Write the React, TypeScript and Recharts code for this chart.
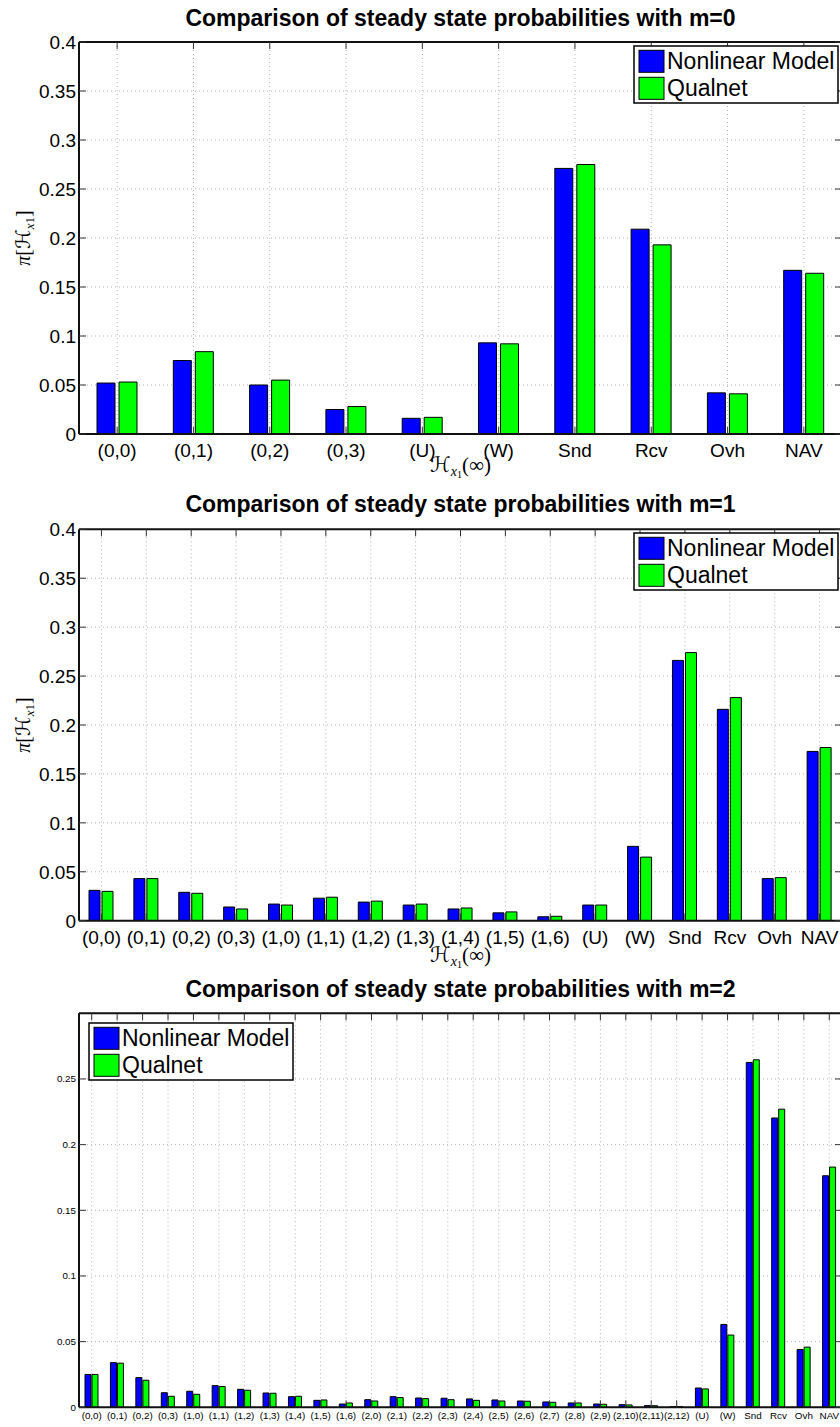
import React from "react";
import { BarChart, Bar, XAxis, YAxis, CartesianGrid, Legend } from "recharts";

// m = 0
const statesM0 = ["(0,0)", "(0,1)", "(0,2)", "(0,3)", "(U)", "(W)", "Snd", "Rcv", "Ovh", "NAV"];
const modelM0 = [0.052, 0.075, 0.050, 0.025, 0.016, 0.093, 0.271, 0.209, 0.042, 0.167];
const qualnetM0 = [0.053, 0.084, 0.055, 0.028, 0.017, 0.092, 0.275, 0.193, 0.041, 0.164];

// m = 1
const statesM1 = [
  "(0,0)", "(0,1)", "(0,2)", "(0,3)", "(1,0)", "(1,1)", "(1,2)", "(1,3)", "(1,4)", "(1,5)", "(1,6)",
  "(U)", "(W)", "Snd", "Rcv", "Ovh", "NAV",
];
const modelM1 = [0.031, 0.043, 0.029, 0.014, 0.017, 0.023, 0.019, 0.016, 0.012, 0.008, 0.004, 0.016, 0.076, 0.266, 0.216, 0.043, 0.173];
const qualnetM1 = [0.030, 0.043, 0.028, 0.012, 0.016, 0.024, 0.020, 0.017, 0.013, 0.009, 0.0045, 0.016, 0.065, 0.274, 0.228, 0.044, 0.177];

// m = 2
const statesM2 = [
  "(0,0)", "(0,1)", "(0,2)", "(0,3)", "(1,0)", "(1,1)", "(1,2)", "(1,3)", "(1,4)", "(1,5)", "(1,6)",
  "(2,0)", "(2,1)", "(2,2)", "(2,3)", "(2,4)", "(2,5)", "(2,6)", "(2,7)", "(2,8)", "(2,9)", "(2,10)", "(2,11)", "(2,12)",
  "(U)", "(W)", "Snd", "Rcv", "Ovh", "NAV",
];
const modelM2 = [
  0.025, 0.034, 0.0226, 0.0111, 0.0122, 0.0165, 0.0137, 0.0109, 0.0081, 0.0053, 0.0025,
  0.0058, 0.0081, 0.0071, 0.0069, 0.0064, 0.0056, 0.0048, 0.0041, 0.0033, 0.0025, 0.002, 0.0013, 0.0005,
  0.0147, 0.0631, 0.2626, 0.2203, 0.044, 0.1763,
];
const qualnetM2 = [
  0.025, 0.0336, 0.0206, 0.0084, 0.0099, 0.0158, 0.013, 0.0107, 0.0084, 0.0056, 0.0033,
  0.0048, 0.0074, 0.0066, 0.0058, 0.0053, 0.0048, 0.0046, 0.0038, 0.0033, 0.0023, 0.0018, 0.0012, 0.0005,
  0.014, 0.055, 0.2646, 0.227, 0.0458, 0.1829,
];

const ticksTall = [0, 0.05, 0.1, 0.15, 0.2, 0.25, 0.3, 0.35, 0.4];
const ticksShort = [0, 0.05, 0.1, 0.15, 0.2, 0.25];

const seriesNames = ["Nonlinear Model", "Qualnet"];
const seriesColors = ["#0000ff", "#00ff00"];

const SANS = "'Liberation Sans', Arial, Helvetica, sans-serif";
const SERIF = "'Liberation Serif', 'DejaVu Serif', 'DejaVu Sans', serif";
const AXIS = { stroke: "#111", strokeWidth: 2 };
const PLOT_LEFT = 79;
const PLOT_W = 763;
const CHART_W = 900;

function renderLegend() {
  return (
    <svg width={206} height={59} style={{ display: "block" }}>
      <rect x={1} y={1} width={204} height={57} fill="#fff" stroke="#000" strokeWidth={1.5} />
      {seriesNames.map((name, i) => (
        <g key={name}>
          <rect x={6} y={5.3 + i * 27} width={25} height={22} fill={seriesColors[i]} stroke="#000" />
          <text x={34} y={23.6 + i * 27} fontFamily={SANS} fontSize={23} fill="#000">
            {name}
          </text>
        </g>
      ))}
    </svg>
  );
}

interface PanelProps {
  top: number;
  height: number;
  plotTop: number;
  plotBottom: number;
  title: string;
  titleY: number;
  states: string[];
  model: number[];
  qualnet: number[];
  yMax: number;
  yTicks: number[];
  tickFont: number;
  xTickDy: number;
  barSize: number;
  barGap: number;
  legendX: number;
  legendY: number;
  xLabelY?: number;
  showYLabel?: boolean;
}

function Panel(p: PanelProps) {
  const rows = p.states.map((s, i) => ({ state: s, model: p.model[i], qualnet: p.qualnet[i] }));
  const mid = (p.plotTop + p.plotBottom) / 2;
  const fs = p.tickFont;

  const leftTick = (t: any) => (
    <g>
      <line x1={t.x} x2={t.x + 7} y1={t.y} y2={t.y} stroke="#333" />
      <text x={t.x - 3} y={t.y + fs * 0.36} textAnchor="end" fontFamily={SANS} fontSize={fs} fill="#000">
        {t.payload.value}
      </text>
    </g>
  );
  const rightTick = (t: any) => <line x1={t.x} x2={t.x - 7} y1={t.y} y2={t.y} stroke="#333" />;
  const topTick = (t: any) => <line x1={t.x} x2={t.x} y1={t.y} y2={t.y + 7} stroke="#333" />;
  const bottomTick = (t: any) => (
    <g>
      <line x1={t.x} x2={t.x} y1={t.y} y2={t.y - 7} stroke="#333" />
      <text x={t.x} y={t.y + p.xTickDy} textAnchor="middle" fontFamily={SANS} fontSize={fs} fill="#000">
        {t.payload.value}
      </text>
    </g>
  );

  const xLabel =
    p.xLabelY !== undefined
      ? {
          content: () => (
            <text x={PLOT_LEFT + PLOT_W / 2} y={p.xLabelY} textAnchor="middle" fontFamily={SERIF} fontSize={21} fill="#000">
              <tspan>ℋ</tspan>
              <tspan fontStyle="italic" fontSize={14} dy={4}>x</tspan>
              <tspan fontSize={10} dy={2}>1</tspan>
              <tspan fontSize={21} dy={-6}>(∞)</tspan>
            </text>
          ),
        }
      : undefined;

  const yLabel = p.showYLabel
    ? {
        content: () => (
          <text
            x={25}
            y={mid + 5}
            transform={`rotate(-90 25 ${mid})`}
            textAnchor="middle"
            fontFamily={SERIF}
            fontSize={20}
            fill="#000"
          >
            <tspan fontStyle="italic">π</tspan>
            <tspan>[ℋ</tspan>
            <tspan fontStyle="italic" fontSize={13} dy={4}>x</tspan>
            <tspan fontSize={13}>1</tspan>
            <tspan fontSize={20} dy={-4}>]</tspan>
          </text>
        ),
      }
    : undefined;

  return (
    <div style={{ position: "absolute", left: 0, top: p.top, width: 840, height: p.height, overflow: "hidden" }}>
      <BarChart
        width={CHART_W}
        height={p.height}
        data={rows}
        margin={{ top: p.plotTop - 10, right: 0, bottom: 0, left: 0 }}
        barSize={p.barSize}
        barGap={p.barGap}
      >
        <CartesianGrid stroke="#b3b3b3" strokeDasharray="1 3" />
        <XAxis
          dataKey="state"
          interval={0}
          height={p.height - p.plotBottom}
          tickSize={0}
          tickMargin={0}
          tickLine={false}
          tick={bottomTick}
          axisLine={AXIS}
          label={xLabel}
        />
        <XAxis
          xAxisId="top"
          orientation="top"
          dataKey="state"
          interval={0}
          height={10}
          tickSize={0}
          tickMargin={0}
          tickLine={false}
          tick={topTick}
          axisLine={AXIS}
        />
        <YAxis
          type="number"
          domain={[0, p.yMax]}
          ticks={p.yTicks}
          interval={0}
          width={PLOT_LEFT}
          tickSize={0}
          tickMargin={0}
          tickLine={false}
          tick={leftTick}
          axisLine={AXIS}
          allowDataOverflow
          label={yLabel}
        />
        <YAxis
          yAxisId="right"
          orientation="right"
          type="number"
          domain={[0, p.yMax]}
          ticks={p.yTicks}
          interval={0}
          width={CHART_W - PLOT_LEFT - PLOT_W}
          tickSize={0}
          tickMargin={0}
          tickLine={false}
          tick={rightTick}
          axisLine={AXIS}
          allowDataOverflow
        />
        <Legend
          layout="vertical"
          align="center"
          verticalAlign="middle"
          wrapperStyle={{ left: p.legendX - 1, top: p.legendY - 1, width: 206, height: 59 }}
          content={renderLegend}
        />
        <Bar dataKey="model" name={seriesNames[0]} fill={seriesColors[0]} stroke="#000" strokeWidth={1} isAnimationActive={false} />
        <Bar dataKey="qualnet" name={seriesNames[1]} fill={seriesColors[1]} stroke="#000" strokeWidth={1} isAnimationActive={false} />
      </BarChart>
      <svg style={{ position: "absolute", left: 0, top: 0, pointerEvents: "none" }} width={840} height={p.plotTop}>
        <text x={PLOT_LEFT + PLOT_W / 2} y={p.titleY} textAnchor="middle" fontFamily={SANS} fontWeight="bold" fontSize={23} fill="#000">
          {p.title}
        </text>
      </svg>
    </div>
  );
}

export default function App() {
  return (
    <div style={{ position: "absolute", left: 0, top: 0, width: 840, height: 1427, overflow: "hidden", background: "#fff" }}>
      <Panel
        top={0}
        height={492}
        plotTop={42}
        plotBottom={434}
        title="Comparison of steady state probabilities with m=0"
        titleY={26}
        states={statesM0}
        model={modelM0}
        qualnet={qualnetM0}
        yMax={0.4}
        yTicks={ticksTall}
        tickFont={19}
        xTickDy={23}
        barSize={18}
        barGap={4}
        legendX={634}
        legendY={45.7}
        xLabelY={472}
        showYLabel
      />
      <Panel
        top={480}
        height={502}
        plotTop={49.3}
        plotBottom={440.7}
        title="Comparison of steady state probabilities with m=1"
        titleY={32.3}
        states={statesM1}
        model={modelM1}
        qualnet={qualnetM1}
        yMax={0.4}
        yTicks={ticksTall}
        tickFont={19}
        xTickDy={23}
        barSize={11}
        barGap={2}
        legendX={634}
        legendY={52.7}
        xLabelY={482}
        showYLabel
      />
      <Panel
        top={970}
        height={457}
        plotTop={43.3}
        plotBottom={437.3}
        title="Comparison of steady state probabilities with m=2"
        titleY={26.5}
        states={statesM2}
        model={modelM2}
        qualnet={qualnetM2}
        yMax={0.3}
        yTicks={ticksShort}
        tickFont={9.8}
        xTickDy={11.7}
        barSize={6}
        barGap={1}
        legendX={88.7}
        legendY={53}
      />
    </div>
  );
}
